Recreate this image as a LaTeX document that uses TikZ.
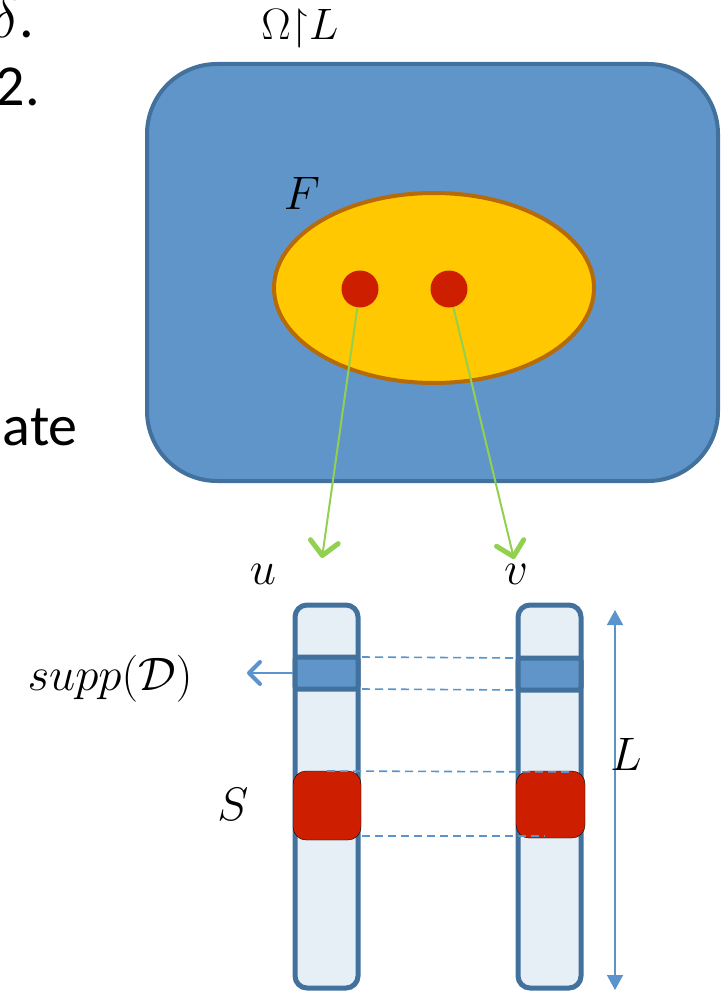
\RequirePackage{fix-cm}
\documentclass[tikz,border=0pt]{standalone}
\usepackage{amssymb}
\usepackage{fontspec}
\newfontfamily\calib{Carlito}
\usetikzlibrary{arrows.meta,shapes.geometric}
\definecolor{boxfill}{RGB}{96,149,201}
\definecolor{boxline}{RGB}{65,113,156}
\definecolor{barfill}{RGB}{230,238,246}
\definecolor{gold}{RGB}{255,200,0}
\definecolor{goldline}{RGB}{182,106,8}
\definecolor{dotred}{RGB}{206,30,0}
\definecolor{lgreen}{RGB}{146,208,80}
\definecolor{dashblue}{RGB}{91,148,205}
\tikzset{
  bigtxt/.style={inner sep=0pt, font=\fontsize{47}{54}\selectfont},
  slidetxt/.style={inner sep=0pt, font=\calib\fontsize{58}{66}\selectfont},
  dot/.style={circle, fill=dotred, minimum size=37pt, inner sep=0pt},
  greenarrow/.style={draw=lgreen, line width=2pt, -{Straight Barb[length=14pt,width=28pt,line width=5pt,round]}},
  barbox/.style={draw=boxline, fill=barfill, line width=5pt, rounded corners=12pt},
  band/.style={draw=boxline, fill=boxfill, line width=5pt, rounded corners=3pt},
  redblock/.style={fill=dotred, rounded corners=13pt},
  dashline/.style={draw=dashblue, line width=1.6pt, dash pattern=on 8pt off 5pt},
}
\begin{document}
\begin{tikzpicture}[x=1pt,y=-1pt]
\useasboundingbox (0,0) rectangle (720,992);
% cut-off slide text
\node[slidetxt, anchor=base east] (t1) at (34,38) {$\delta$.};
\node[slidetxt, anchor=base east] (t2) at (40,106) {2.};
\node[slidetxt, anchor=base east] (t3) at (78,445) {nate};
% title
\node[inner sep=0pt, font=\fontsize{44}{52}\selectfont] (title) at (300,29) {${\Omega}{\upharpoonright}{L}$};
% big box
\draw[draw=boxline, fill=boxfill, line width=4pt, rounded corners=70pt] (147,64) rectangle (718,481);
\node[bigtxt] (F) at (302,193) {$F$};
\node[ellipse, draw=goldline, fill=gold, line width=4pt, minimum width=320pt, minimum height=190pt, inner sep=0pt] (ell) at (434,288) {};
\node[dot] (d1) at (360,289) {};
\node[dot] (d2) at (449,289) {};
\coordinate (ua) at (322,558);
\coordinate (va) at (514,559);
\draw[greenarrow] (d1) -- (ua);
\draw[greenarrow] (d2) -- (va);
\node[bigtxt] (u) at (263,574) {$u$};
\node[bigtxt] (v) at (516,574) {$v$};
% bars
\draw[barbox] (295,605) rectangle (358,988);
\draw[barbox] (518,605) rectangle (581,988);
\draw[band] (295,657) rectangle (358,689);
\draw[band] (518,658) rectangle (581,690);
\draw[redblock] (293,771) rectangle (361,840);
\draw[redblock] (516,771) rectangle (585,838);
% dashed
\coordinate (a1) at (362,657); \coordinate (b1) at (514,658);
\coordinate (a2) at (362,689); \coordinate (b2) at (514,690);
\coordinate (a3) at (327,771); \coordinate (b3) at (573,772);
\coordinate (a4) at (362,836); \coordinate (b4) at (545,836);
\draw[dashline] (a1) -- (b1);
\draw[dashline] (a2) -- (b2);
\draw[dashline] (a3) -- (b3);
\draw[dashline] (a4) -- (b4);
% supp arrow
\coordinate (sa) at (293,673);
\coordinate (sb) at (247,673);
\draw[draw=dashblue, line width=2pt, -{Straight Barb[length=11pt,width=22pt,line width=4pt,round]}] (sa) -- (sb);
\node[bigtxt] (supp) at (110,679) {$supp(\mathcal{D})$};
\node[bigtxt] (S) at (233,804) {$S$};
% L arrow
\coordinate (la) at (615,610);
\coordinate (lb) at (615,990);
\draw[draw=dashblue, line width=1.6pt, {Triangle[length=15pt,width=16pt]}-{Triangle[length=15pt,width=16pt]}] (la) -- (lb);
\node[bigtxt] (L) at (626,754) {$L$};
\end{tikzpicture}
\end{document}
